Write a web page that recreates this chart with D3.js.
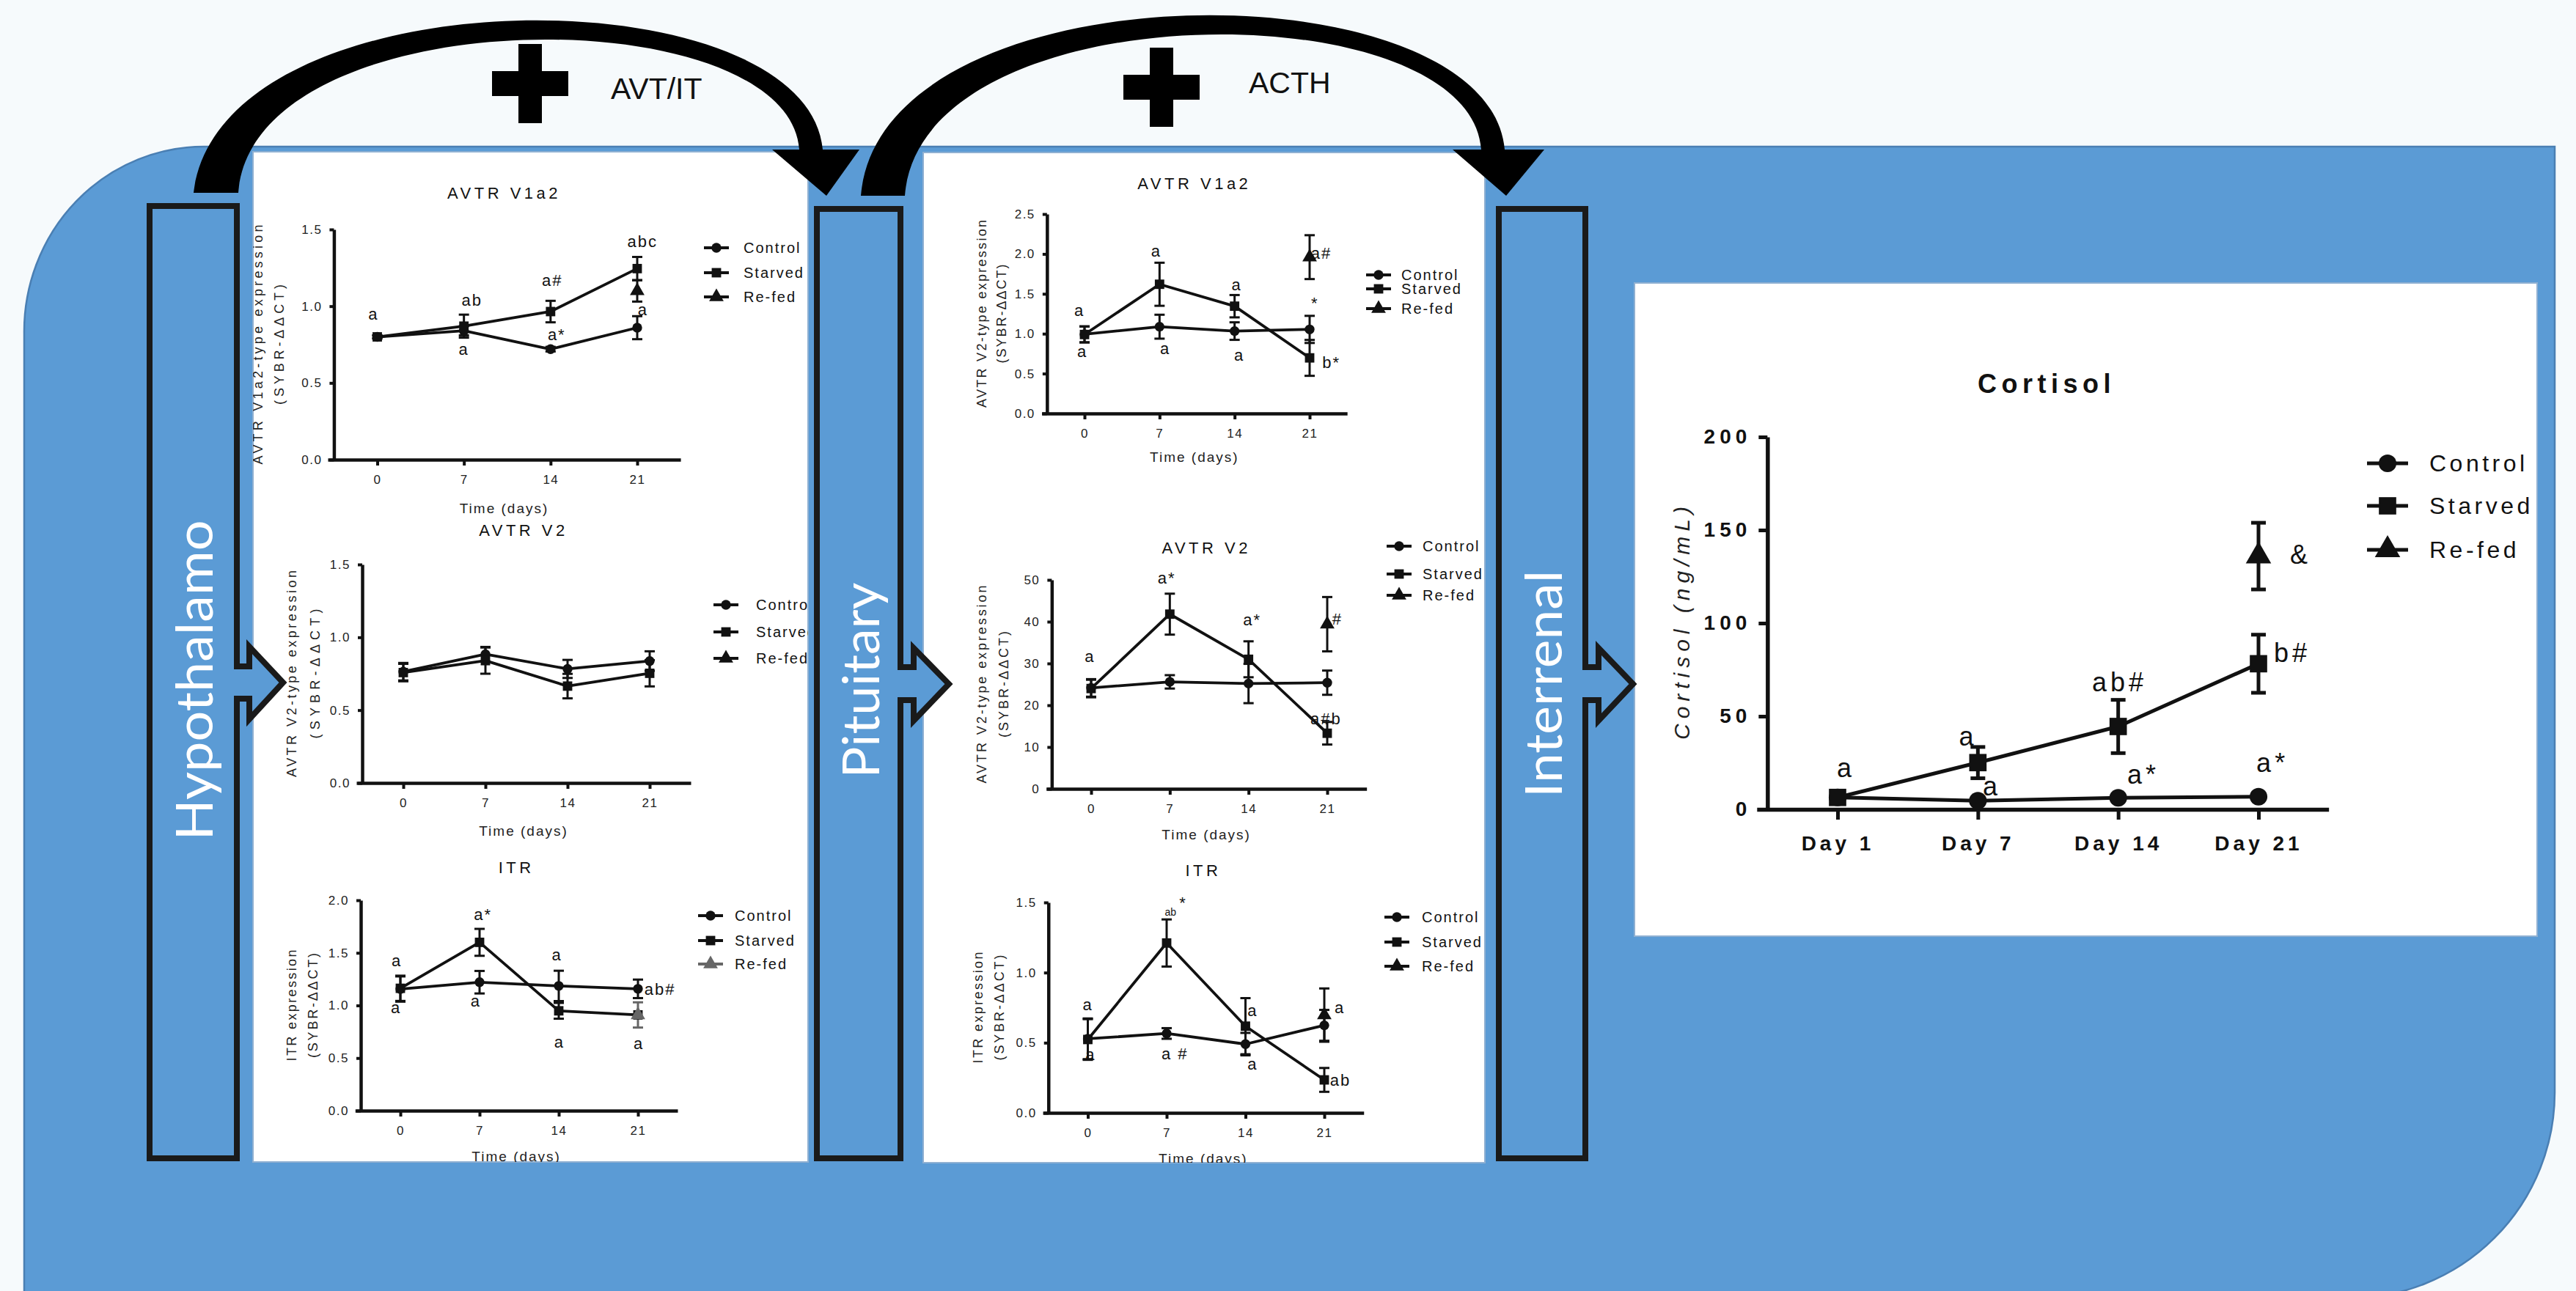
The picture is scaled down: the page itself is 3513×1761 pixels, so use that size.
<!DOCTYPE html>
<html><head><meta charset="utf-8">
<script src="https://cdn.jsdelivr.net/npm/d3@7"></script>
<style>
html,body{margin:0;padding:0;background:#f6fafc;}
svg{display:block;}
</style>
</head><body>
<svg id="fig" width="3513" height="1761"></svg>
<script>
// ---------------- DATA ----------------
const days = [0, 7, 14, 21];
const dayTickLabels = ["0", "7", "14", "21"];
const groupNames = ["Control", "Starved", "Re-fed"];
const organNames = ["Hypothalamo", "Pituitary", "Interrenal"];
const hormoneNames = ["AVT/IT", "ACTH"];

// Hypothalamus - AVTR V1a2
const hypV1a2Control = [0.80, 0.84, 0.72, 0.86];
const hypV1a2ControlErr = [0.01, 0.03, 0.015, 0.075];
const hypV1a2Starved = [0.80, 0.87, 0.965, 1.245];
const hypV1a2StarvedErr = [0.01, 0.075, 0.07, 0.076];
const hypV1a2Refed = [null, null, null, 1.10];
const hypV1a2RefedErr = [null, null, null, 0.07];
const hypV1a2Letters = [[-0.3, 0.95, "a"], [7.66, 1.037, "ab"], [7.0, 0.718, "a"], [14.14, 1.168, "a#"], [14.5, 0.814, "a*"], [21.43, 1.42, "abc"], [21.46, 0.977, "a"]];

// Hypothalamus - AVTR V2
const hypV2Control = [0.764, 0.884, 0.783, 0.837];
const hypV2ControlErr = [0.06, 0.05, 0.062, 0.067];
const hypV2Starved = [0.758, 0.84, 0.665, 0.753];
const hypV2StarvedErr = [0.06, 0.09, 0.084, 0.09];
const hypV2Refed = [null, null, null, null];
const hypV2RefedErr = [null, null, null, null];
const hypV2Letters = [];

// Hypothalamus - ITR
const hypITRControl = [1.156, 1.221, 1.186, 1.158];
const hypITRControlErr = [0.12, 0.107, 0.144, 0.088];
const hypITRStarved = [1.163, 1.60, 0.949, 0.91];
const hypITRStarvedErr = [0.12, 0.128, 0.075, null];
const hypITRRefed = [null, null, null, 0.91];
const hypITRRefedErr = [null, null, null, 0.12];
const hypITRLetters = [[-0.31, 1.423, "a"], [-0.38, 0.981, "a"], [7.3, 1.867, "a*"], [6.67, 1.04, "a"], [13.84, 1.481, "a"], [14.06, 0.651, "a"], [22.95, 1.156, "ab#"], [21.07, 0.635, "a"]];

// Pituitary - AVTR V1a2
const pitV1a2Control = [0.993, 1.088, 1.033, 1.054];
const pitV1a2ControlErr = [0.1, 0.15, 0.11, 0.17];
const pitV1a2Starved = [0.99, 1.62, 1.345, 0.697];
const pitV1a2StarvedErr = [0.1, 0.27, 0.14, 0.225];
const pitV1a2Refed = [null, null, null, 1.96];
const pitV1a2RefedErr = [null, null, null, 0.275];
const pitV1a2Letters = [[-0.47, 1.293, "a"], [-0.2, 0.773, "a"], [6.7, 2.04, "a"], [7.54, 0.81, "a"], [14.2, 1.614, "a"], [14.44, 0.733, "a"], [22.1, 2.005, "a#"], [21.5, 1.385, "*"], [23.03, 0.636, "b*"]];

// Pituitary - AVTR V2
const pitV2Control = [24.15, 25.6, 25.2, 25.4];
const pitV2ControlErr = [2.1, 1.6, 4.7, 2.9];
const pitV2Starved = [24.0, 41.8, 31.0, 13.3];
const pitV2StarvedErr = [2.1, 4.9, 4.3, 2.7];
const pitV2Refed = [null, null, null, 39.4];
const pitV2RefedErr = [null, null, null, 6.5];
const pitV2Letters = [[-0.1, 31.75, "a"], [6.73, 50.5, "a*"], [14.33, 40.4, "a*"], [21.9, 40.7, "#"], [20.9, 16.8, "a#b"]];

// Pituitary - ITR
const pitITRControl = [0.528, 0.566, 0.49, 0.624];
const pitITRControlErr = [0.145, 0.038, 0.08, 0.11];
const pitITRStarved = [0.523, 1.211, 0.618, 0.235];
const pitITRStarvedErr = [0.145, 0.168, 0.2, 0.085];
const pitITRRefed = [null, null, null, 0.697];
const pitITRRefedErr = [null, null, null, 0.19];
const pitITRLetters = [[0, 0.772, "a"], [0.26, 0.415, "a"], [8.47, 1.495, "*"], [7.73, 0.423, "a #"], [14.64, 0.728, "a"], [14.64, 0.348, "a"], [22.37, 0.751, "a"], [22.43, 0.235, "ab"]];
const pitITRSmallLetters = [[7.35, 1.434, "ab"]];

// Interrenal - Cortisol
const cortDays = ["Day 1", "Day 7", "Day 14", "Day 21"];
const cortControl = [6.4, 4.6, 6.2, 6.8];
const cortControlErr = [1, 1, 1, 1];
const cortStarved = [6.4, 25.1, 44.5, 78.2];
const cortStarvedErr = [1.5, 8.4, 14.3, 15.6];
const cortRefed = [null, null, null, 136];
const cortRefedErr = [null, null, null, 17.9];
const cortTicks = [0, 50, 100, 150, 200];
const cortLetters = [[0.06, 22.1, "a"], [0.93, 39.2, "a"], [1.1, 12.5, "a"], [2.01, 68.4, "ab#"], [2.18, 18.7, "a*"], [3.1, 25.1, "a*"], [3.24, 83.9, "b#"], [3.3, 136.8, "&"]];

// ---------------- LAYOUT ----------------
const svg = d3.select("#fig");
const BLUE = "#5b9bd5";
const FONT = "'Liberation Sans', Arial, sans-serif";

svg.append("rect").attr("width", 3513).attr("height", 1761).attr("fill", "#f6fafc");

// big blue shape
svg.append("path")
  .attr("d", "M33,455 A245,252 0 0 1 280,200 L3484,200 L3484,1490 A281,281 0 0 1 3203,1771 L33,1771 Z")
  .attr("fill", BLUE).attr("stroke", "#4a7fb3").attr("stroke-width", 2.5);

// white panels
const panels = [
  {id: "clipP1", x: 345, y: 207, w: 757, h: 1378},
  {id: "clipP2", x: 1259, y: 208, w: 766, h: 1378},
  {id: "clipP3", x: 2229, y: 386, w: 1231, h: 891}
];
const defs = svg.append("defs");
panels.forEach(p => {
  defs.append("clipPath").attr("id", p.id).append("rect").attr("x", p.x).attr("y", p.y).attr("width", p.w).attr("height", p.h);
  svg.append("rect").attr("x", p.x).attr("y", p.y).attr("width", p.w).attr("height", p.h)
    .attr("fill", "#ffffff").attr("stroke", "#8fb0d2").attr("stroke-width", 2);
});

// ---------------- small time-course charts ----------------
const symbolTypes = [d3.symbolCircle, d3.symbolSquare, d3.symbolTriangle];

const charts = [
  {clip: "clipP1", title: "AVTR V1a2", ylab: ["AVTR V1a2-type expression", "(SYBR-\u0394\u0394CT)"], yMax: 1.5, yTicks: [0, 0.5, 1.0, 1.5], fmt: ".1f",
   ser: [[hypV1a2Control, hypV1a2ControlErr], [hypV1a2Starved, hypV1a2StarvedErr], [hypV1a2Refed, hypV1a2RefedErr]], letters: hypV1a2Letters, small: [], refedColor: "#111",
   L: {t0: 514.5, t21: 869, yT: 313, yB: 627, titleY: 263, xlabY: 693, ylabX: [352, 381], lens: [327, 164], mx: 977, tx: 1014, rows: [338, 372, 405]}},
  {clip: "clipP1", title: "AVTR V2", ylab: ["AVTR V2-type expression", "(SYBR-\u0394\u0394CT)"], yMax: 1.5, yTicks: [0, 0.5, 1.0, 1.5], fmt: ".1f",
   ser: [[hypV2Control, hypV2ControlErr], [hypV2Starved, hypV2StarvedErr], [hypV2Refed, hypV2RefedErr]], letters: hypV2Letters, small: [], refedColor: "#111",
   L: {t0: 550, t21: 886, yT: 770, yB: 1068, titleY: 723, xlabY: 1133, ylabX: [398, 430], lens: [282, 177], mx: 990, tx: 1031, rows: [825, 862, 898]}},
  {clip: "clipP1", title: "ITR", ylab: ["ITR expression", "(SYBR-\u0394\u0394CT)"], yMax: 2.0, yTicks: [0, 0.5, 1.0, 1.5, 2.0], fmt: ".1f",
   ser: [[hypITRControl, hypITRControlErr], [hypITRStarved, hypITRStarvedErr], [hypITRRefed, hypITRRefedErr]], letters: hypITRLetters, small: [], refedColor: "#666",
   L: {t0: 546, t21: 870, yT: 1228, yB: 1515, titleY: 1183, xlabY: 1577, ylabX: [398, 427], lens: [152, 143], mx: 969, tx: 1002, rows: [1249, 1283, 1315]}},
  {clip: "clipP2", title: "AVTR V1a2", ylab: ["AVTR V2-type expression", "(SYBR-\u0394\u0394CT)"], yMax: 2.5, yTicks: [0, 0.5, 1.0, 1.5, 2.0, 2.5], fmt: ".1f",
   ser: [[pitV1a2Control, pitV1a2ControlErr], [pitV1a2Starved, pitV1a2StarvedErr], [pitV1a2Refed, pitV1a2RefedErr]], letters: pitV1a2Letters, small: [], refedColor: "#111",
   L: {t0: 1479, t21: 1786, yT: 292, yB: 564, titleY: 250, xlabY: 623, ylabX: [1339, 1366], lens: [256, 135], mx: 1880, tx: 1911, rows: [375, 394, 421]}},
  {clip: "clipP2", title: "AVTR V2", ylab: ["AVTR V2-type expression", "(SYBR-\u0394\u0394CT)"], yMax: 50, yTicks: [0, 10, 20, 30, 40, 50], fmt: "d",
   ser: [[pitV2Control, pitV2ControlErr], [pitV2Starved, pitV2StarvedErr], [pitV2Refed, pitV2RefedErr]], letters: pitV2Letters, small: [], refedColor: "#111",
   L: {t0: 1488, t21: 1810, yT: 791, yB: 1076, titleY: 747, xlabY: 1138, ylabX: [1339, 1369], lens: [270, 145], mx: 1908, tx: 1940, rows: [745, 783, 812]}},
  {clip: "clipP2", title: "ITR", ylab: ["ITR expression", "(SYBR-\u0394\u0394CT)"], yMax: 1.5, yTicks: [0, 0.5, 1.0, 1.5], fmt: ".1f",
   ser: [[pitITRControl, pitITRControlErr], [pitITRStarved, pitITRStarvedErr], [pitITRRefed, pitITRRefedErr]], letters: pitITRLetters, small: pitITRSmallLetters, refedColor: "#111",
   L: {t0: 1483.5, t21: 1806, yT: 1231, yB: 1518, titleY: 1187, xlabY: 1580, ylabX: [1334, 1363], lens: [152, 144], mx: 1905, tx: 1939, rows: [1251, 1285, 1318]}}
];

function drawTimeChart(c) {
  const L = c.L;
  const g = svg.append("g").attr("clip-path", `url(#${c.clip})`).attr("font-family", FONT);
  const x = d3.scaleLinear().domain([0, 21]).range([L.t0, L.t21]);
  const xAxisScale = d3.scaleLinear().domain([-4, 24.5]).range([x(-4), x(24.5)]);
  const y = d3.scaleLinear().domain([0, c.yMax]).range([L.yB, L.yT]);
  const ink = "#111";

  // x axis
  const xa = g.append("g").attr("transform", `translate(0,${y(0)})`)
    .call(d3.axisBottom(xAxisScale).tickValues(days).tickFormat((d, i) => dayTickLabels[i]).tickSize(8).tickSizeOuter(0).tickPadding(13));
  // y axis
  const ya = g.append("g").attr("transform", `translate(${x(-3.5)},0)`)
    .call(d3.axisLeft(y).tickValues(c.yTicks).tickFormat(d3.format(c.fmt)).tickSize(6).tickSizeOuter(0).tickPadding(10));
  [xa, ya].forEach(a => {
    a.select(".domain").attr("stroke", ink).attr("stroke-width", 4.5);
    a.selectAll(".tick line").attr("stroke", ink).attr("stroke-width", 4);
    a.selectAll(".tick text").attr("font-size", 17).attr("letter-spacing", 1.5).attr("fill", "#222").attr("font-family", FONT);
  });

  const midX = (x(-4) + x(24.5)) / 2;
  g.append("text").attr("x", midX).attr("y", L.titleY).attr("text-anchor", "middle").attr("dominant-baseline", "central")
    .attr("font-size", 22).attr("letter-spacing", 4.5).attr("fill", "#111").text(c.title);
  g.append("text").attr("x", midX).attr("y", L.xlabY).attr("text-anchor", "middle").attr("dominant-baseline", "central")
    .attr("font-size", 19).attr("letter-spacing", 2).attr("fill", "#222").text("Time (days)");
  const cy = (L.yT + L.yB) / 2;
  c.ylab.forEach((t, i) => {
    g.append("text").attr("transform", `translate(${L.ylabX[i]},${cy}) rotate(-90)`).attr("text-anchor", "middle")
      .attr("dominant-baseline", "central").attr("font-size", 18).attr("fill", "#222")
      .attr("textLength", L.lens[i]).attr("lengthAdjust", "spacing").text(t);
  });

  // series
  const line = d3.line().defined(d => d[1] != null).x(d => x(d[0])).y(d => y(d[1]));
  const colors = [ink, ink, c.refedColor];
  c.ser.forEach((s, si) => {
    const pts = days.map((d, i) => [d, s[0][i], s[1][i]]);
    g.append("path").datum(pts).attr("d", line).attr("fill", "none").attr("stroke", colors[si]).attr("stroke-width", 3.8).attr("stroke-linejoin", "round");
    pts.filter(p => p[1] != null && p[2] != null && p[2] > 0).forEach(p => {
      const eg = g.append("g").attr("stroke", colors[si]).attr("stroke-width", 3);
      eg.append("line").attr("x1", x(p[0])).attr("x2", x(p[0])).attr("y1", y(p[1] - p[2])).attr("y2", y(p[1] + p[2]));
      [p[1] - p[2], p[1] + p[2]].forEach(v => eg.append("line").attr("x1", x(p[0]) - 7).attr("x2", x(p[0]) + 7).attr("y1", y(v)).attr("y2", y(v)));
    });
  });
  c.ser.forEach((s, si) => {
    days.forEach((d, i) => {
      if (s[0][i] == null) return;
      g.append("path").attr("d", d3.symbol().type(symbolTypes[si]).size(si === 0 ? 140 : si === 1 ? 165 : 170)())
        .attr("transform", `translate(${x(d)},${y(s[0][i])})`).attr("fill", colors[si]);
    });
  });

  // letters
  c.letters.forEach(a => {
    g.append("text").attr("x", x(a[0])).attr("y", y(a[1])).attr("text-anchor", "middle").attr("dominant-baseline", "central")
      .attr("font-size", 22).attr("letter-spacing", 2).attr("fill", "#111").text(a[2]);
  });
  c.small.forEach(a => {
    g.append("text").attr("x", x(a[0])).attr("y", y(a[1])).attr("text-anchor", "middle").attr("dominant-baseline", "central")
      .attr("font-size", 14).attr("fill", "#111").text(a[2]);
  });

  // legend
  groupNames.forEach((name, i) => {
    const ry = L.rows[i];
    g.append("line").attr("x1", L.mx - 17).attr("x2", L.mx + 17).attr("y1", ry).attr("y2", ry).attr("stroke", colors[i]).attr("stroke-width", 4);
    g.append("path").attr("d", d3.symbol().type(symbolTypes[i]).size(i === 0 ? 140 : i === 1 ? 165 : 170)())
      .attr("transform", `translate(${L.mx},${ry})`).attr("fill", colors[i]);
    g.append("text").attr("x", L.tx).attr("y", ry).attr("dominant-baseline", "central").attr("font-size", 20)
      .attr("letter-spacing", 2).attr("fill", "#111").text(name);
  });
}
charts.forEach(drawTimeChart);

// ---------------- Cortisol chart ----------------
(function () {
  const g = svg.append("g").attr("clip-path", "url(#clipP3)").attr("font-family", FONT);
  const idx = [0, 1, 2, 3];
  const x = d3.scaleLinear().domain([0, 3]).range([2506, 3080]);
  const xAxisScale = d3.scaleLinear().domain([-0.576, 3.5]).range([x(-0.576), x(3.5)]);
  const y = d3.scaleLinear().domain([0, 200]).range([1104, 596]);
  const ink = "#111";
  const xa = g.append("g").attr("transform", `translate(0,${y(0)})`)
    .call(d3.axisBottom(xAxisScale).tickValues(idx).tickFormat(i => cortDays[i]).tickSize(14).tickSizeOuter(0).tickPadding(22));
  const ya = g.append("g").attr("transform", `translate(${x(-0.5)},0)`)
    .call(d3.axisLeft(y).tickValues(cortTicks).tickFormat(d3.format("d")).tickSize(12).tickSizeOuter(0).tickPadding(10));
  [xa, ya].forEach(a => {
    a.select(".domain").attr("stroke", ink).attr("stroke-width", 5.5);
    a.selectAll(".tick line").attr("stroke", ink).attr("stroke-width", 5);
    a.selectAll(".tick text").attr("font-size", 28).attr("font-weight", "bold").attr("fill", "#111").attr("font-family", FONT);
  });
  xa.selectAll(".tick text").attr("letter-spacing", 5);
  ya.selectAll(".tick text").attr("letter-spacing", 6);

  g.append("text").attr("x", 2791).attr("y", 523).attr("text-anchor", "middle").attr("dominant-baseline", "central")
    .attr("font-size", 36).attr("font-weight", "bold").attr("letter-spacing", 6.5).attr("fill", "#111").text("Cortisol");
  g.append("text").attr("transform", `translate(2293,${(y(0) + y(200)) / 2}) rotate(-90)`).attr("text-anchor", "middle")
    .attr("dominant-baseline", "central").attr("font-size", 30).attr("font-style", "italic").attr("fill", "#222")
    .attr("textLength", 318).attr("lengthAdjust", "spacing").text("Cortisol (ng/mL)");

  const sers = [[cortControl, cortControlErr], [cortStarved, cortStarvedErr], [cortRefed, cortRefedErr]];
  const line = d3.line().defined(d => d[1] != null).x(d => x(d[0])).y(d => y(d[1]));
  const sizes = [460, 560, 520];
  sers.forEach((s, si) => {
    const pts = idx.map(i => [i, s[0][i], s[1][i]]);
    g.append("path").datum(pts).attr("d", line).attr("fill", "none").attr("stroke", ink).attr("stroke-width", 5).attr("stroke-linejoin", "round");
    pts.filter(p => p[1] != null && p[2] > 2).forEach(p => {
      const eg = g.append("g").attr("stroke", ink).attr("stroke-width", 5);
      eg.append("line").attr("x1", x(p[0])).attr("x2", x(p[0])).attr("y1", y(p[1] - p[2])).attr("y2", y(p[1] + p[2]));
      [p[1] - p[2], p[1] + p[2]].forEach(v => eg.append("line").attr("x1", x(p[0]) - 10).attr("x2", x(p[0]) + 10).attr("y1", y(v)).attr("y2", y(v)));
    });
  });
  sers.forEach((s, si) => {
    idx.forEach(i => {
      if (s[0][i] == null) return;
      g.append("path").attr("d", d3.symbol().type(symbolTypes[si]).size(sizes[si])())
        .attr("transform", `translate(${x(i)},${y(s[0][i])})`).attr("fill", ink);
    });
  });
  cortLetters.forEach(a => {
    g.append("text").attr("x", x(a[0])).attr("y", y(a[1])).attr("text-anchor", "middle").attr("dominant-baseline", "central")
      .attr("font-size", 36).attr("letter-spacing", 5).attr("fill", "#111").text(a[2]);
  });
  const rows = [632, 690, 750];
  groupNames.forEach((name, i) => {
    g.append("line").attr("x1", 3228).attr("x2", 3284).attr("y1", rows[i]).attr("y2", rows[i]).attr("stroke", ink).attr("stroke-width", 5);
    g.append("path").attr("d", d3.symbol().type(symbolTypes[i]).size(sizes[i])()).attr("transform", `translate(3256,${rows[i]})`).attr("fill", ink);
    g.append("text").attr("x", 3313).attr("y", rows[i]).attr("dominant-baseline", "central").attr("font-size", 32)
      .attr("letter-spacing", 4.5).attr("fill", "#111").text(name);
  });
})();

// ---------------- organ bars with arrows ----------------
const bars = [
  {xL: 204, xR: 323, yT: 281, yB: 1580, sT: 909, sB: 953, hb: 340, hT: 882, hB: 981, tip: [386, 931], tx: 290, ty: 928, len: 437},
  {xL: 1114, xR: 1228, yT: 285, yB: 1580, sT: 910, sB: 955, hb: 1246, hT: 884, hB: 983, tip: [1294, 933], tx: 1199, ty: 928, len: 267},
  {xL: 2044, xR: 2162, yT: 285, yB: 1580, sT: 910, sB: 955, hb: 2180, hT: 884, hB: 983, tip: [2227, 933], tx: 2130, ty: 933, len: 310}
];
bars.forEach((b, i) => {
  const p = d3.path();
  p.moveTo(b.xL, b.yT); p.lineTo(b.xR, b.yT); p.lineTo(b.xR, b.sT); p.lineTo(b.hb, b.sT); p.lineTo(b.hb, b.hT);
  p.lineTo(b.tip[0], b.tip[1]); p.lineTo(b.hb, b.hB); p.lineTo(b.hb, b.sB); p.lineTo(b.xR, b.sB); p.lineTo(b.xR, b.yB);
  p.lineTo(b.xL, b.yB); p.closePath();
  svg.append("path").attr("d", p.toString()).attr("fill", BLUE).attr("stroke", "#1a1a1a").attr("stroke-width", 8).attr("stroke-linejoin", "miter");
  svg.append("text").attr("transform", `translate(${b.tx},${b.ty}) rotate(-90)`).attr("text-anchor", "middle")
    .attr("font-family", "Lato, 'Open Sans', sans-serif").attr("font-size", 70).attr("fill", "#ffffff")
    .attr("textLength", b.len).attr("lengthAdjust", "spacingAndGlyphs").text(organNames[i]);
});

// ---------------- top curved arrows ----------------
const arcs = [
  {outer: "M264,263 C300,-40 1100,-40 1122,204", inner: "L1090,204 C1075,-5 345,-5 325,263 Z", head: [[1053, 204], [1172, 204], [1127, 267]]},
  {outer: "M1174,267 C1200,-50 2030,-50 2052,204", inner: "L2020,204 C2005,-15 1255,-15 1234,267 Z", head: [[1981, 204], [2106, 204], [2054, 267]]}
];
arcs.forEach(a => {
  svg.append("path").attr("d", a.outer + " " + a.inner).attr("fill", "#000");
  svg.append("path").attr("d", d3.line()(a.head) + "Z").attr("fill", "#000");
});

// plus signs and hormone labels
const pluses = [{cx: 723, cy: 114, tx: 833, ty: 135}, {cx: 1584, cy: 119, tx: 1703, ty: 127}];
pluses.forEach((p, i) => {
  svg.append("rect").attr("x", p.cx - 16).attr("y", p.cy - 54).attr("width", 32).attr("height", 108).attr("fill", "#000");
  svg.append("rect").attr("x", p.cx - 52).attr("y", p.cy - 17).attr("width", 104).attr("height", 34).attr("fill", "#000");
  svg.append("text").attr("x", p.tx).attr("y", p.ty).attr("font-family", FONT).attr("font-size", 41).attr("fill", "#111").text(hormoneNames[i]);
});
</script>
</body></html>
